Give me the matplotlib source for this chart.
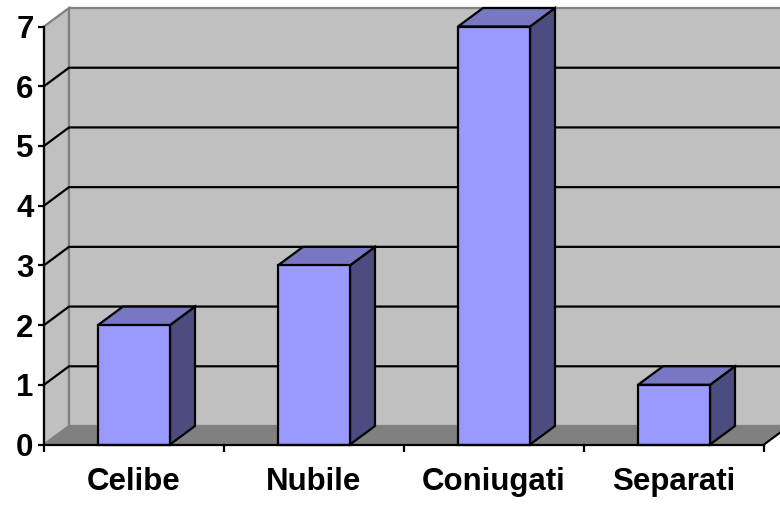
import matplotlib.pyplot as plt
from matplotlib.patches import Polygon

categories = ["Celibe", "Nubile", "Coniugati", "Separati"]
values = [2, 3, 7, 1]
y_ticks = [0, 1, 2, 3, 4, 5, 6, 7]

W, H = 780, 505
fig = plt.figure(figsize=(W / 100, H / 100), dpi=100)
ax = fig.add_axes([44 / W, (H - 444.5) / H, 720 / W, 418 / H])
n = len(categories)
ymax = y_ticks[-1]
ax.set_xlim(0, n)
ax.set_ylim(0, ymax)
ax.patch.set_visible(False)

# depth of the 3d box, given in pixels and turned into data units
dx = 25 / 720 * n
dy = 18.5 / 418 * ymax

wall = "#c0c0c0"
edge = "#808080"


def poly(pts, fc, ec, lw=1.0, z=1):
    ax.add_patch(Polygon(pts, closed=True, facecolor=fc, edgecolor=ec,
                         linewidth=lw, zorder=z, clip_on=False))


# walls and floor
poly([(0, 0), (0, ymax), (dx, ymax + dy), (dx, dy)], wall, edge, 1.6)
poly([(dx, dy), (dx, ymax + dy), (n + 2 * dx, ymax + dy), (n + 2 * dx, dy)], wall, edge, 1.6)
poly([(0, 0), (n, 0), (n + dx, dy), (dx, dy)], "#808080", "#808080", 1.0)
ax.plot([n, n + dx], [0, dy], color="black", lw=1.5, clip_on=False, zorder=2)

# gridlines on side and back wall
for v in y_ticks[1:-1]:
    ax.plot([0, dx, n + 2 * dx], [v, v + dy, v + dy], color="black", lw=1.6,
            clip_on=False, zorder=1.5)

# bars
front_c, top_c, side_c = "#9999ff", "#7777c2", "#4c4c80"
bw = 0.4
for i, v in enumerate(values):
    x0 = i + 0.5 - bw / 2
    x1 = i + 0.5 + bw / 2
    poly([(x1, 0), (x1 + dx, dy), (x1 + dx, v + dy), (x1, v)], side_c, "black", 1.6, 3)
    poly([(x0, v), (x1, v), (x1 + dx, v + dy), (x0 + dx, v + dy)], top_c, "black", 1.6, 3)
    poly([(x0, 0), (x1, 0), (x1, v), (x0, v)], front_c, "black", 1.6, 3)

# axes
for s in ["top", "right"]:
    ax.spines[s].set_visible(False)
for s in ["left", "bottom"]:
    ax.spines[s].set_linewidth(1.6)
    ax.spines[s].set_zorder(4)

font = dict(family="Liberation Sans", weight="bold", size=22.5)
ax.set_yticks(y_ticks)
ax.set_yticklabels([str(t) for t in y_ticks], **font)
ax.tick_params(axis="y", direction="out", length=4.5, width=1.6, pad=3)

ax.set_xticks(range(n + 1))
ax.set_xticklabels([])
ax.tick_params(axis="x", which="major", direction="out", length=5, width=1.6)
ax.set_xticks([i + 0.5 for i in range(n)], minor=True)
ax.set_xticklabels(categories, minor=True, **font)
ax.tick_params(axis="x", which="minor", length=0, pad=16)

fig.savefig("out.png", dpi=100)
